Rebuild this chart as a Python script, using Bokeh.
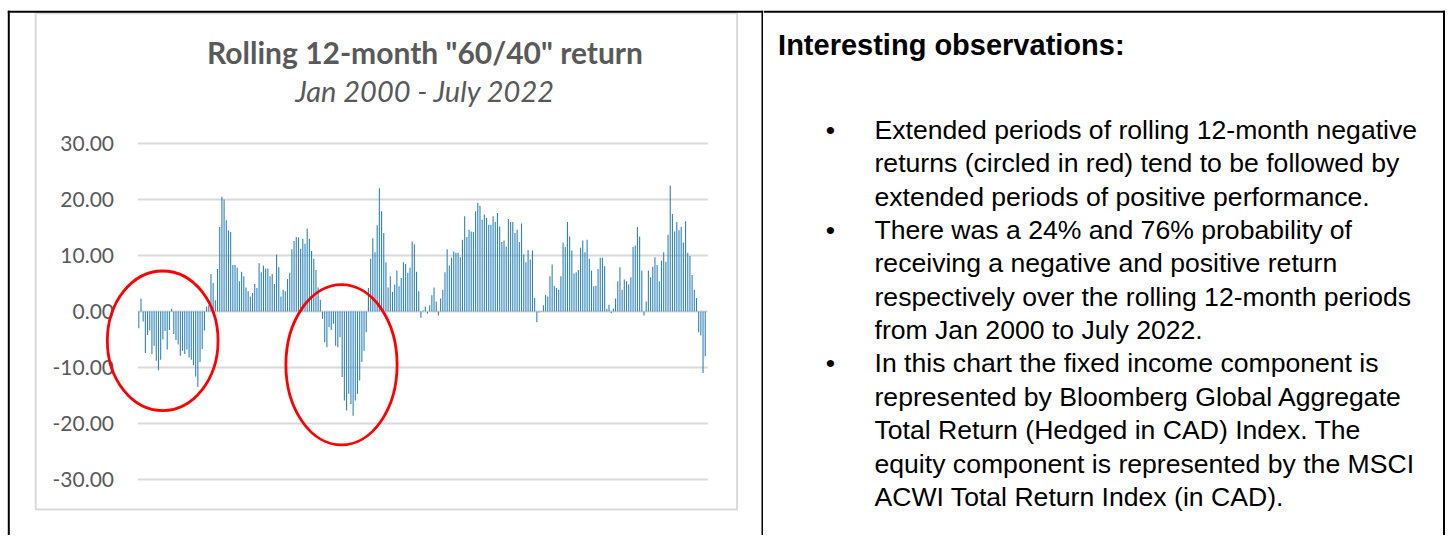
import pandas as pd
from bokeh.plotting import figure
from bokeh.models import ColumnDataSource, Range1d, Label
from bokeh.layouts import row
from bokeh.embed import file_html
from bokeh.resources import INLINE
from bokeh.core.properties import value

# ---------------- data (rolling 12-month "60/40" return, %) ----------------
returns_2000_2003 = [-3.0, 2.3, -1.8, -7.4, -4.2, -3.4, -7.6, -6.1, -8.8, -10.5, -8.6, -5.0,
                     -3.5, -6.8, -3.3, 0.5, -4.0, -5.1, -5.9, -7.9, -7.0, -7.6, -6.8, -8.2,
                     -8.6, -9.6, -11.6, -13.5, -9.0, -6.7, -3.4, 0.9, 1.1, 6.7, 5.1]
returns_2003_2006 = [2.0, 7.6, 15.1, 20.5, 20.0, 16.3, 14.5, 14.2, 8.3, 8.3, 7.8, 5.4,
                     7.1, 6.3, 4.3, 3.6, 2.7, 3.3, 4.9, 4.2, 8.6, 7.0, 8.2, 7.7,
                     7.7, 6.3, 6.7, 4.9, 10.2, 7.9, 2.7, 3.9, 3.6, 5.8, 6.9, 11.1, 12.6]
returns_2006_2007 = [13.3, 13.2, 11.2, 13.0, 12.1, 14.8, 13.0, 10.8, 9.4, 7.4, 4.3, 2.1]
returns_2007_2009 = [-1.3, -5.5, -6.4, -2.8, -3.3, -2.2, -6.1, -6.4, -4.6, -11.7, -15.9,
                     -17.7, -14.7, -16.5, -18.6, -15.9, -14.7, -12.3, -9.0, -7.0, -3.7]
returns_2009_2012 = [4.2, 9.4, 13.1, 10.6, 15.4, 22.0, 17.9, 14.0, 8.8, 4.3, 6.3, 3.5,
                     4.8, 7.3, 4.5, 6.0, 8.8, 8.5, 6.9, 7.8, 12.5, 12.0, 7.1, 3.6,
                     -1.1, 0.2, 0.9, -0.4, 1.1, 2.9, 4.3, 1.8, -0.7, 2.3, 3.9, 7.0,
                     11.1, 8.2, 9.6, 10.7]
returns_2012_2015 = [10.5, 10.5, 9.7, 12.8, 17.0, 13.3, 14.6, 14.3, 14.2, 17.9, 19.4, 18.9,
                     16.4, 17.3, 16.7, 15.5, 15.5, 17.0, 16.0, 17.6, 15.2, 12.4, 12.7, 11.6,
                     16.5, 16.0, 16.0, 14.0, 14.6, 12.4, 15.7, 10.2, 8.8, 11.0, 9.3, 10.9]
returns_2015_2018 = [2.4, -1.9, -0.2, -0.1, 1.1, 3.0, 2.7, 6.3, 8.4, 4.6, 4.2, 3.9,
                     6.3, 12.3, 11.5, 16.0, 13.4, 10.9, 6.8, 7.0, 7.4, 11.4, 12.7, 10.6,
                     12.8, 9.4, 7.3, 4.5, 4.6, 7.6, 9.6, 9.6, 8.1, 0.5, 1.2, -0.3, 0.5]
returns_2018_2022 = [2.3, 5.4, 7.9, 3.9, 5.7, 5.4, 4.8, 6.1, 11.5, 11.8, 15.1, 13.4,
                     7.3, -0.7, 1.8, 7.3, 6.1, 8.0, 9.7, 8.3, 5.4, 9.1, 10.6, 8.9,
                     13.7, 22.5, 17.4, 14.3, 16.0, 14.5, 15.1, 12.3, 16.1, 10.5, 9.9, 6.5,
                     3.9, 2.4, -3.7, -4.3, -11.0, -8.0]

returns = (returns_2000_2003 + returns_2003_2006 + returns_2006_2007 + returns_2007_2009 +
           returns_2009_2012 + returns_2012_2015 + returns_2015_2018 + returns_2018_2022)
period_end = pd.period_range(end="2022-07", periods=len(returns), freq="M").strftime("%b %Y").tolist()

tick_values = [30, 20, 10, 0, -10, -20, -30]
tick_labels = ["30.00", "20.00", "10.00", "0.00", "-10.00", "-20.00", "-30.00"]

chart_title = 'Rolling 12-month "60/40" return'
chart_subtitle = "Jan 2000 - July 2022"

notes_heading = "Interesting observations:"
notes = [
    ["Extended periods of rolling 12-month negative",
     "returns (circled in red) tend to be followed by",
     "extended periods of positive performance."],
    ["There was a 24% and 76% probability of",
     "receiving a negative and positive return",
     "respectively over the rolling 12-month periods",
     "from Jan 2000 to July 2022."],
    ["In this chart the fixed income component is",
     "represented by Bloomberg Global Aggregate",
     "Total Return (Hedged in CAD) Index. The",
     "equity component is represented by the MSCI",
     "ACWI Total Return Index (in CAD)."],
]

# ---------------- layout constants (pixels inside each canvas) ----------------
H = 535
LW, RW = 763, 685
BAR0_PX, BAR_STEP = 138.3, 2.187      # x pixel of first bar, pixels per bar
ZERO_PX, UNIT_PX = 311.0, 5.6         # y pixel of 0.00, pixels per unit
TOP_LINE = 11.2

def px2idx(px):
    return (px - BAR0_PX) / BAR_STEP

def px2val(py):
    return (ZERO_PX - py) / UNIT_PX

TEXT_GRAY = "#595959"
GRID_GRAY = "#d9d9d9"
BAR_BLUE = "#2f83bb"

# ---------------- left cell: the chart ----------------
p = figure(width=LW, height=H, output_backend="svg", toolbar_location=None,
           x_range=Range1d(px2idx(0), px2idx(LW)), y_range=Range1d(px2val(H), px2val(0)),
           x_axis_location=None, y_axis_location=None, min_border=0,
           outline_line_color=None, background_fill_color="white", border_fill_color="white")
p.grid.grid_line_color = None

# chart area border
p.quad(left=[px2idx(35.2)], right=[px2idx(736.6)], top=[px2val(12.8)], bottom=[px2val(509.0)],
       fill_alpha=0, line_color=GRID_GRAY, line_width=2)

# gridlines
p.segment(x0=[px2idx(137.4)] * len(tick_values), x1=[px2idx(707.3)] * len(tick_values),
          y0=tick_values, y1=tick_values, line_color=GRID_GRAY, line_width=2)

# tick labels
p.text(x=[px2idx(113.5)] * len(tick_values), y=tick_values, text=tick_labels,
       text_font=value("Lato"), text_font_size="21px", text_color=TEXT_GRAY,
       text_align="right", text_baseline="middle")

src = ColumnDataSource(dict(idx=list(range(len(returns))), ret=returns, period=period_end))
p.vbar(x="idx", top="ret", bottom=0, width=0.5, source=src,
       fill_color=BAR_BLUE, line_color=None)

# red ellipses
p.ellipse(x=[px2idx(162.2), px2idx(341.0)], y=[px2val(340.3), px2val(364.3)],
          width=[110.7 / BAR_STEP, 111.2 / BAR_STEP], height=[139.6 / UNIT_PX, 160.3 / UNIT_PX],
          fill_alpha=0, line_color="#ff0000", line_width=2.8)

p.add_layout(Label(x=px2idx(424.5), y=px2val(51), text=chart_title, text_font="Lato",
                   text_font_size="30px", text_font_style="bold", text_color=TEXT_GRAY,
                   text_align="center", text_baseline="middle"))
p.add_layout(Label(x=px2idx(424.8), y=px2val(90), text=chart_subtitle, text_font="Lato",
                   text_font_size="29px", text_font_style="italic", text_color=TEXT_GRAY,
                   text_align="center", text_baseline="middle"))

# table borders (top, left edge, middle divider)
p.segment(x0=[px2idx(7.3), px2idx(8.3), px2idx(762.0)],
          x1=[px2idx(LW), px2idx(8.3), px2idx(762.0)],
          y0=[px2val(TOP_LINE), px2val(TOP_LINE - 1), px2val(TOP_LINE - 1)],
          y1=[px2val(TOP_LINE), px2val(H), px2val(H)],
          line_color="black", line_width=2)

# ---------------- right cell: notes ----------------
q = figure(width=RW, height=H, output_backend="svg", toolbar_location=None,
           x_range=Range1d(0, RW), y_range=Range1d(H, 0),
           x_axis_location=None, y_axis_location=None, min_border=0,
           outline_line_color=None, background_fill_color="white", border_fill_color="white")
q.grid.grid_line_color = None

q.segment(x0=[0, 680.5], x1=[681.5, 680.5], y0=[TOP_LINE, TOP_LINE - 1], y1=[TOP_LINE, H],
          line_color="black", line_width=2)

q.add_layout(Label(x=14.6, y=44, text=notes_heading, text_font="Liberation Sans",
                   text_font_size="29px", text_font_style="bold", text_color="black",
                   text_align="left", text_baseline="middle"))

line_x, line_y, line_t, bul_y = [], [], [], []
y = 129.5
for item in notes:
    bul_y.append(y)
    for ln in item:
        line_x.append(111.0)
        line_y.append(y)
        line_t.append(ln)
        y += 33.35

q.text(x=line_x, y=line_y, text=line_t, text_font=value("Liberation Sans"),
       text_font_size="26.6px", text_color="black", text_align="left", text_baseline="middle")
q.text(x=[67.0] * len(bul_y), y=bul_y, text=["\u2022"] * len(bul_y), text_font=value("Liberation Sans"),
       text_font_size="26.6px", text_color="black", text_align="center", text_baseline="middle")

layout = row(p, q)
open("out.html", "w").write(file_html(layout, INLINE))
